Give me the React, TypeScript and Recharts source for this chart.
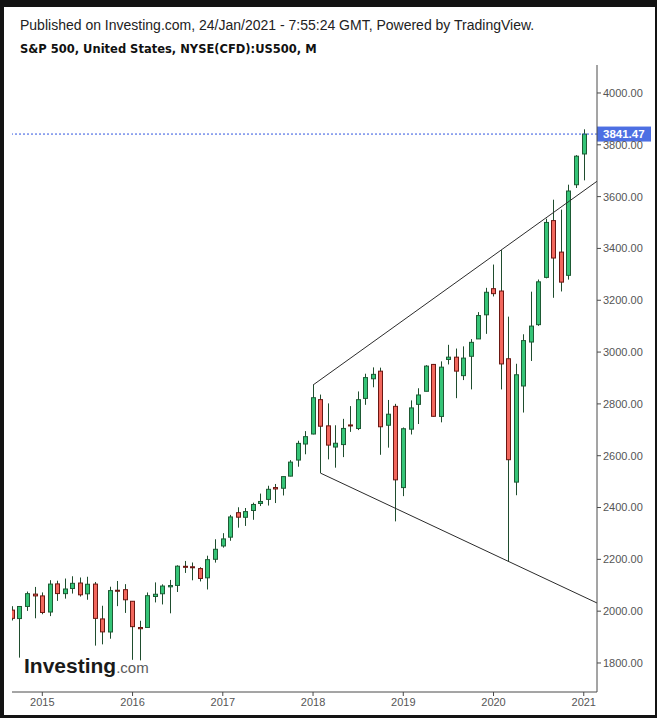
import React from 'react';
import { ComposedChart, Bar, XAxis, YAxis, ReferenceLine } from 'recharts';

// Monthly candles, Sep 2014 .. Jan 2021 (t = months since Jan 2015)
const startT = -4;
const opens = [
  2004.07, 1971.44, 2018.21, 2065.78,
  2058.90, 1996.67, 2105.23, 2067.63, 2087.38, 2108.64, 2067.00, 2104.49, 1970.09, 1919.65, 2080.76, 2082.93,
  2038.20, 1936.94, 1937.09, 2056.62, 2067.17, 2093.94, 2099.34, 2173.15, 2171.33, 2164.33, 2128.68, 2200.17,
  2251.57, 2285.59, 2380.13, 2362.34, 2388.50, 2415.65, 2431.39, 2477.10, 2474.42, 2521.20, 2583.21, 2645.10,
  2683.73, 2816.45, 2715.22, 2633.45, 2642.96, 2718.70, 2704.95, 2821.17, 2896.96, 2926.29, 2717.58, 2790.50,
  2476.96, 2702.32, 2798.22, 2848.63, 2952.33, 2751.53, 2971.41, 2980.32, 2909.01, 2983.69, 3050.72, 3143.85,
  3244.67, 3235.66, 2974.28, 2498.08, 2869.09, 3038.78, 3105.92, 3288.26, 3507.44, 3385.87, 3296.20, 3645.87,
  3764.61,
];
const highs = [
  2019.26, 2018.19, 2075.76, 2093.55,
  2072.36, 2119.59, 2117.52, 2125.92, 2134.72, 2129.87, 2132.82, 2112.66, 2020.86, 2094.32, 2116.48, 2104.27,
  2038.20, 1962.96, 2072.21, 2111.05, 2103.48, 2120.55, 2177.09, 2193.81, 2187.87, 2169.60, 2214.10, 2277.53,
  2300.99, 2371.54, 2400.98, 2398.16, 2418.71, 2453.82, 2484.04, 2490.87, 2519.44, 2582.98, 2657.74, 2694.97,
  2872.87, 2835.96, 2801.90, 2717.49, 2742.24, 2791.47, 2848.03, 2916.50, 2940.91, 2939.86, 2815.15, 2800.18,
  2708.95, 2813.49, 2860.31, 2949.52, 2954.13, 2964.15, 3027.98, 3013.59, 3021.99, 3050.10, 3154.26, 3247.93,
  3337.77, 3393.52, 3136.72, 2954.86, 3068.67, 3233.13, 3279.99, 3514.77, 3588.11, 3549.85, 3645.99, 3760.20,
  3859.75,
];
const lows = [
  1964.04, 1820.66, 2001.01, 1972.56,
  1988.12, 1980.90, 2039.69, 2048.38, 2067.93, 2056.32, 2044.02, 1867.01, 1871.91, 1893.70, 2019.39, 1993.26,
  1812.29, 1810.10, 1937.09, 2033.80, 2025.91, 1991.68, 2074.02, 2147.58, 2119.12, 2114.72, 2083.79, 2187.44,
  2245.13, 2271.65, 2322.25, 2328.95, 2352.72, 2405.70, 2407.70, 2417.35, 2446.55, 2520.40, 2557.45, 2605.52,
  2682.36, 2532.69, 2585.89, 2553.80, 2594.62, 2691.99, 2698.95, 2796.34, 2864.12, 2603.54, 2631.09, 2346.58,
  2443.96, 2681.83, 2722.27, 2848.63, 2750.52, 2728.81, 2952.22, 2822.12, 2891.85, 2855.94, 3050.72, 3070.33,
  3214.64, 2855.84, 2191.86, 2447.49, 2766.64, 2965.66, 3101.17, 3284.53, 3209.45, 3233.94, 3279.74, 3633.40,
  3662.71,
];
const closes = [
  1972.29, 2018.05, 2067.56, 2058.90,
  1994.99, 2104.50, 2067.89, 2085.51, 2107.39, 2063.11, 2103.84, 1972.18, 1920.03, 2079.36, 2080.41, 2043.94,
  1940.24, 1932.23, 2059.74, 2065.30, 2096.95, 2098.86, 2173.60, 2170.95, 2168.27, 2126.15, 2198.81, 2238.83,
  2278.87, 2363.64, 2362.72, 2384.20, 2411.80, 2423.41, 2470.30, 2471.65, 2519.36, 2575.26, 2647.58, 2673.61,
  2823.81, 2713.83, 2640.87, 2648.05, 2705.27, 2718.37, 2816.29, 2901.52, 2913.98, 2711.74, 2760.17, 2506.85,
  2704.10, 2784.49, 2834.40, 2945.83, 2752.06, 2941.76, 2980.38, 2926.46, 2976.74, 3037.56, 3140.98, 3230.78,
  3225.52, 2954.22, 2584.59, 2912.43, 3044.31, 3100.29, 3271.12, 3500.31, 3363.00, 3269.96, 3621.63, 3756.07,
  3841.47,
];

const yearTicks = [0, 12, 24, 36, 48, 60, 72];
const yearLabels = ['2015', '2016', '2017', '2018', '2019', '2020', '2021'];
const priceTicks = [1800, 2000, 2200, 2400, 2600, 2800, 3000, 3200, 3400, 3600, 3800, 4000];
const lastPrice = 3841.47;

// trendline anchors (t, price)
const upperA = { t: 36, p: 2872.87 };
const upperB = { t: 61, p: 3393.52 };
const lowerA = { t: 37, p: 2532.69 };
const lowerB = { t: 62, p: 2191.86 };

const xDomain: [number, number] = [-4.03, 73.76];
const yDomain: [number, number] = [1688, 4108];

const data = opens.map((o, i) => ({
  t: startT + i,
  open: o,
  high: highs[i],
  low: lows[i],
  close: closes[i],
  range: [lows[i], highs[i]],
}));

const extend = (a: { t: number; p: number }, b: { t: number; p: number }, t: number) =>
  a.p + ((b.p - a.p) / (b.t - a.t)) * (t - a.t);

const GREEN = '#35c477';
const GREEN_B = '#1d5a34';
const RED = '#f2675d';
const RED_B = '#6b1712';
const WICK = '#1f4d2e';

const Candle = (props: any) => {
  let { x, y, width, height, payload } = props;
  if (!payload) return null;
  if (height < 0) {
    y = y + height;
    height = -height;
  }
  const { open, close, high, low } = payload;
  const up = close >= open;
  const ppu = high - low > 0 ? height / (high - low) : 0;
  const yO = y + (high - open) * ppu;
  const yC = y + (high - close) * ppu;
  const top = Math.min(yO, yC);
  const h = Math.max(Math.abs(yO - yC), 1);
  const c = Math.round(x + width / 2);
  return (
    <g>
      <line x1={c + 0.5} x2={c + 0.5} y1={y} y2={y + height} stroke={WICK} strokeWidth={1} />
      <rect
        x={c - 2 + 0.5}
        y={top}
        width={4}
        height={h}
        fill={up ? GREEN : RED}
        stroke={up ? GREEN_B : RED_B}
        strokeWidth={1}
      />
    </g>
  );
};

const PriceLabel = (props: any) => {
  const vb = props.viewBox || {};
  const x = (vb.x || 0) + (vb.width || 0);
  const y = vb.y || 0;
  return (
    <g>
      <rect x={x} y={y - 7.5} width={54} height={15} fill="#4d6fe3" />
      <text
        x={x + 6}
        y={y + 4}
        fill="#ffffff"
        fontSize={11.5}
        fontWeight="bold"
        fontFamily="Liberation Sans, Arial, sans-serif"
      >
        {lastPrice.toFixed(2)}
      </text>
    </g>
  );
};

export default function App() {
  const uEnd = extend(upperA, upperB, xDomain[1]);
  const lEnd = extend(lowerA, lowerB, xDomain[1]);
  return (
    <div
      style={{
        position: 'absolute',
        left: 0,
        top: 0,
        width: 657,
        height: 718,
        background: '#131313',
        fontFamily: 'Liberation Sans, Arial, sans-serif',
      }}
    >
      <div
        style={{
          position: 'absolute',
          left: 4,
          top: 7,
          width: 651,
          height: 708,
          background: '#ffffff',
        }}
      />
      <div
        style={{
          position: 'absolute',
          left: 20,
          top: 17,
          fontSize: 14,
          color: '#222',
          whiteSpace: 'nowrap',
          lineHeight: '17px',
        }}
      >
        Published on Investing.com, 24/Jan/2021 - 7:55:24 GMT, Powered by TradingView.
      </div>
      <div
        style={{
          position: 'absolute',
          left: 20,
          top: 41,
          fontSize: 11.5,
          fontWeight: 'bold',
          color: '#111',
          whiteSpace: 'nowrap',
          lineHeight: '16px',
          fontFamily: 'DejaVu Sans, Verdana, sans-serif',
        }}
      >
        S&amp;P 500, United States, NYSE(CFD):US500, M
      </div>
      <div style={{ position: 'absolute', left: 0, top: 0 }}>
        <ComposedChart
          width={657}
          height={718}
          data={data}
          margin={{ top: 65, right: 6, bottom: 6, left: 12 }}
        >
          <XAxis
            dataKey="t"
            type="number"
            domain={xDomain}
            allowDataOverflow
            ticks={yearTicks}
            tickFormatter={(v: number) => yearLabels[yearTicks.indexOf(v)] ?? ''}
            height={20}
            stroke="#4a4a4a"
            tickSize={4}
            tickMargin={2}
            tick={{ fontSize: 11, fill: '#555', fontFamily: 'Liberation Sans, Arial, sans-serif' }}
          />
          <YAxis
            orientation="right"
            type="number"
            domain={yDomain}
            allowDataOverflow
            ticks={priceTicks}
            tickFormatter={(v: number) => v.toFixed(2)}
            width={54}
            stroke="#4a4a4a"
            tickSize={4}
            tickMargin={2}
            tick={{ fontSize: 11, fill: '#555', fontFamily: 'Liberation Sans, Arial, sans-serif', textAnchor: 'start' }}
          />
          <ReferenceLine
            segment={[
              { x: upperA.t, y: upperA.p },
              { x: xDomain[1], y: uEnd },
            ]}
            stroke="#2b2b2b"
            strokeWidth={1}
          />
          <ReferenceLine
            segment={[
              { x: lowerA.t, y: lowerA.p },
              { x: xDomain[1], y: lEnd },
            ]}
            stroke="#2b2b2b"
            strokeWidth={1}
          />
          <Bar dataKey="range" barSize={5} shape={<Candle />} isAnimationActive={false} />
          <ReferenceLine
            y={lastPrice}
            stroke="#2f55e0"
            strokeDasharray="2 2"
            strokeWidth={1}
            label={<PriceLabel />}
          />
        </ComposedChart>
      </div>
      <div
        style={{
          position: 'absolute',
          left: 24,
          top: 653,
          whiteSpace: 'nowrap',
          lineHeight: '26px',
        }}
      >
        <span style={{ fontSize: 21, fontWeight: 'bold', color: '#1a1a1a' }}>Investing</span>
        <span style={{ fontSize: 15, color: '#5a5a5a' }}>.com</span>
      </div>
    </div>
  );
}
